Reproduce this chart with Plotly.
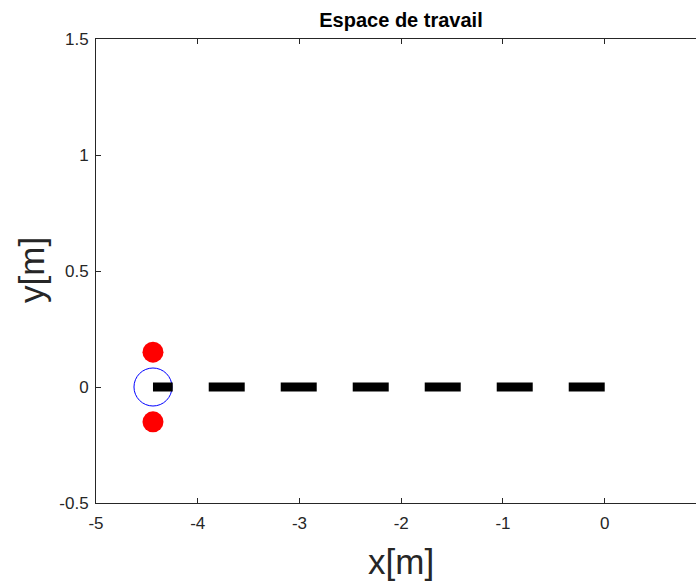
import plotly.graph_objects as go

# Data
path_x = [0.0, -4.44]
path_y = [0.0, 0.0]
robot_x = [-4.44]
robot_y = [0.0]
wheel_x = [-4.44, -4.44]
wheel_y = [0.15, -0.15]
x_ticks = [-5, -4, -3, -2, -1, 0]
y_ticks = [-0.5, 0, 0.5, 1, 1.5]

W, H = 696, 583
L, T, B = 96, 39, 80
axis_col = "#262626"
font_fam = "Liberation Sans, Arial, sans-serif"

fig = go.Figure()
fig.add_trace(go.Scatter(x=robot_x, y=robot_y, mode="markers",
                         marker=dict(symbol="circle-open", size=38,
                                     line=dict(color="#0000ff", width=1), color="#0000ff"),
                         hoverinfo="skip"))
fig.add_trace(go.Scatter(x=path_x, y=path_y, mode="lines",
                         line=dict(color="black", width=9, dash="36px,36px"),
                         hoverinfo="skip"))
fig.add_trace(go.Scatter(x=wheel_x, y=wheel_y, mode="markers",
                         marker=dict(symbol="circle", size=21, color="#ff0000"),
                         hoverinfo="skip"))

fig.update_layout(
    width=W, height=H,
    margin=dict(l=L, r=0, t=T, b=B, pad=0),
    paper_bgcolor="white", plot_bgcolor="white",
    showlegend=False,
    font=dict(family=font_fam, color=axis_col, size=17),
    title=dict(text="<b>Espace de travail</b>", x=401 / W, xanchor="center",
               xref="container", y=1 - 20 / H, yanchor="middle", yref="container",
               font=dict(size=20, color="black", family=font_fam)),
    xaxis=dict(range=[-5, 0.897], tickvals=x_ticks, ticktext=[str(v) for v in x_ticks],
               showgrid=False, zeroline=False, showline=True, linecolor=axis_col, linewidth=1,
               mirror="ticks", ticks="inside", ticklen=5, tickcolor=axis_col,
               ticklabelstandoff=5,
               tickfont=dict(size=17, color=axis_col)),
    yaxis=dict(range=[-0.5, 1.5], tickvals=y_ticks, ticktext=["-0.5", "0", "0.5", "1", "1.5"],
               showgrid=False, zeroline=False, showline=True, linecolor=axis_col, linewidth=1,
               mirror=False, ticks="inside", ticklen=5, tickcolor=axis_col,
               ticklabelstandoff=3,
               tickfont=dict(size=17, color=axis_col)),
    annotations=[
        dict(text="x[m]", x=401, y=H - 561, xref="paper", yref="paper", showarrow=False,
             xanchor="center", yanchor="middle",
             font=dict(size=35, color=axis_col, family=font_fam)),
        dict(text="y[m]", x=31, y=H - 270, xref="paper", yref="paper", showarrow=False,
             xanchor="center", yanchor="middle",
             textangle=-90, font=dict(size=35, color=axis_col, family=font_fam)),
    ],
)

# convert pixel annotation positions to paper fractions
pw = W - L
ph = H - T - B
for a in fig.layout.annotations:
    a.x = (a.x - L) / pw
    a.y = (a.y - B) / ph

fig.write_html("out.html")
